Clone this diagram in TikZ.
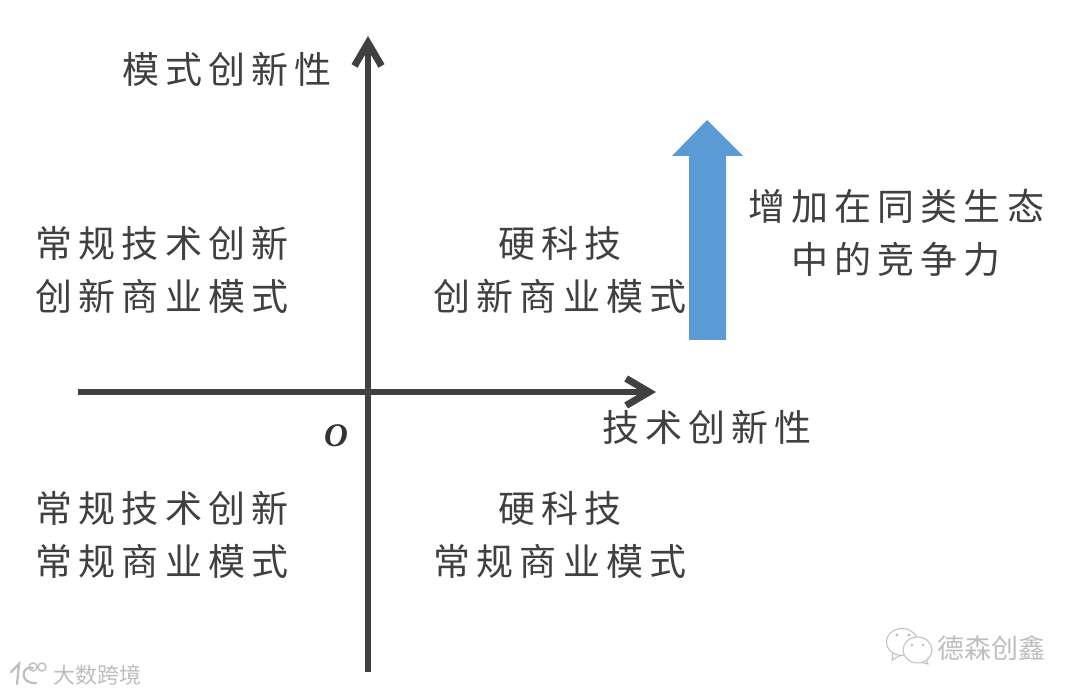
\documentclass[tikz,border=0pt]{standalone}
\usepackage{fontspec}
\setmainfont{Liberation Serif}
\newfontfamily\cjk{Noto Sans CJK SC}
\usetikzlibrary{arrows.meta}
\definecolor{axisc}{HTML}{404040}
\definecolor{textc}{HTML}{404040}
\definecolor{bluec}{HTML}{5B9BD5}
\definecolor{wmark}{HTML}{BEBEBE}
\tikzset{
 lbl/.style={font=\cjk\fontsize{37pt}{53pt}\selectfont,text=textc,align=center,inner sep=0pt},
 axisl/.style={draw=axisc,line width=5.5pt,-{Straight Barb[length=23pt,width=27pt,line width=7pt]}},
 wmarktext/.style={text=wmark,inner sep=0pt},
 bubble/.style={draw=wmark,line width=1pt,fill=white},
 logol/.style={draw=wmark,line width=2.2pt,line cap=round},
}
\begin{document}
\begin{tikzpicture}[x=1pt,y=-1pt]
\useasboundingbox (0,0) rectangle (1080,695);
\fill[white] (0,0) rectangle (1080,695);
\coordinate (xs) at (78,392);
\coordinate (xe) at (656,392);
\coordinate (ys) at (368,672);
\coordinate (ye) at (368,36);
\draw[axisl] (xs) -- (xe);
\draw[axisl] (ys) -- (ye);
\node[lbl] (a) at (227,69) {模\,式\,创\,新\,性};
\node[lbl] (b) at (707,427) {技\,术\,创\,新\,性};
\node[lbl] (c) at (162,270) {常\,规\,技\,术\,创\,新\\创\,新\,商\,业\,模\,式};
\node[lbl] (d) at (560,270) {硬\,科\,技\\创\,新\,商\,业\,模\,式};
\node[lbl] (e) at (162,535) {常\,规\,技\,术\,创\,新\\常\,规\,商\,业\,模\,式};
\node[lbl] (f) at (560,535) {硬\,科\,技\\常\,规\,商\,业\,模\,式};
\node[lbl] (g) at (896,233) {增\,加\,在\,同\,类\,生\,态\\中\,的\,竞\,争\,力};
\node[font=\bfseries\itshape\fontsize{33pt}{36pt}\selectfont,text=axisc!80!black,inner sep=0pt] (o) at (336,436) {O};
\fill[bluec] (689,340) -- (689,156) -- (672,156) -- (707,120) -- (743,156) -- (726,156) -- (726,340) -- cycle;
% watermarks
\node[wmarktext,font=\cjk\fontsize{27pt}{30pt}\selectfont] (w1) at (991,648) {德森创鑫};
\draw[bubble] (893,652) -- (892,660) -- (901,655);
\draw[bubble] (902,642) ellipse (15.5 and 13.5);
\draw[bubble] (926,659) -- (928,664) -- (920,662);
\draw[bubble] (917.5,650) ellipse (14.5 and 13);
\fill[wmark] (897,635) circle (1.6) (909,635) circle (1.6) (912,645) circle (1.4) (923,645) circle (1.4);
\node[wmarktext,font=\cjk\fontsize{22pt}{25pt}\selectfont] (w2) at (97,675) {大数跨境};
\draw[logol] (11,672) -- (19,664) -- (17,684);
\draw[logol] (33,668) .. controls (22,664) and (18,684) .. (36,683);
\draw[wmark,line width=1.4pt] (33,667) circle (4) (42,667) circle (4);
\end{tikzpicture}
\end{document}
